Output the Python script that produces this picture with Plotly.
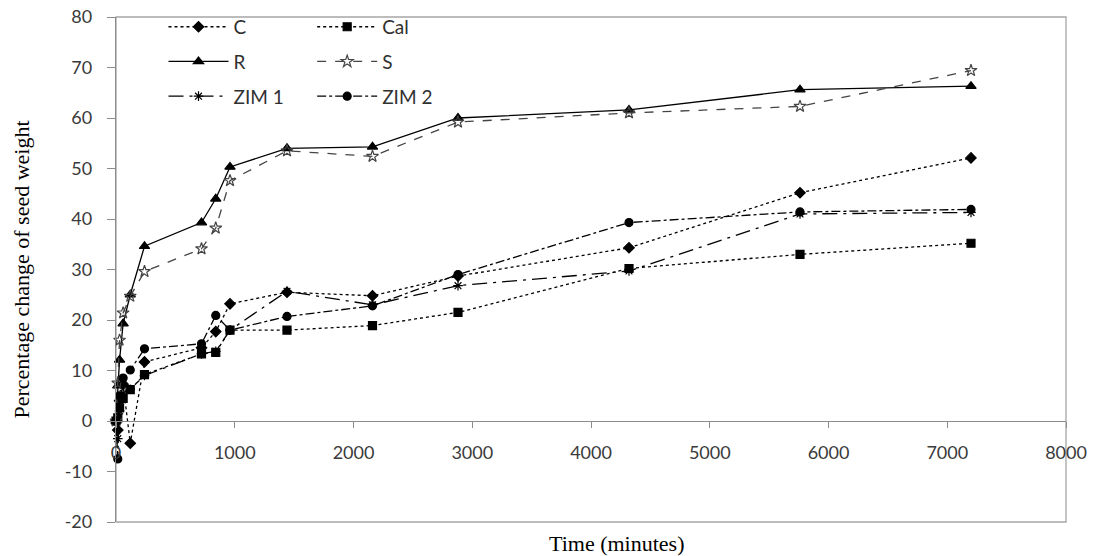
import plotly.graph_objects as go

time_min = [0, 15, 30, 60, 120, 240, 720, 840, 960, 1440, 2160, 2880, 4320, 5760, 7200]

C = [0, -1.8, 4.0, 7.3, -4.4, 11.7, 14.5, 17.7, 23.2, 25.5, 24.8, 28.7, 34.3, 45.2, 52.1]
Cal = [0, 0.6, 2.6, 4.5, 6.2, 9.2, 13.3, 13.6, 18.0, 18.0, 18.9, 21.5, 30.2, 33.0, 35.2]
R = [0, 7.0, 12.1, 19.3, 25.0, 34.6, 39.3, 44.0, 50.3, 54.0, 54.3, 60.0, 61.6, 65.6, 66.3]
S = [0, 7.5, 16.0, 21.4, 24.7, 29.6, 34.1, 38.2, 47.6, 53.5, 52.4, 59.2, 61.0, 62.3, 69.4]
ZIM1 = [0, -3.5, 2.0, 5.5, 6.3, 9.0, 13.3, 13.8, 18.0, 25.7, 23.0, 26.8, 29.7, 41.0, 41.3]
ZIM2 = [0, -7.5, 5.0, 8.5, 10.1, 14.3, 15.3, 20.9, 18.0, 20.7, 22.8, 29.0, 39.3, 41.4, 41.9]

x_ticks = [0, 1000, 2000, 3000, 4000, 5000, 6000, 7000, 8000]
y_ticks = [-20, -10, 0, 10, 20, 30, 40, 50, 60, 70, 80]

series = [
    ("C", C, "dot", "diamond", 8, "#000000", "legend"),
    ("Cal", Cal, "dot", "square", 8, "#000000", "legend2"),
    ("R", R, "solid", "triangle-up", 9, "#000000", "legend"),
    ("S", S, "dash", "star-open", 9, "#444444", "legend2"),
    ("ZIM 1", ZIM1, "longdashdot", "asterisk-open", 8, "#000000", "legend"),
    ("ZIM 2", ZIM2, "dashdot", "circle", 8, "#000000", "legend2"),
]

fig = go.Figure()
for name, vals, dash, sym, size, col, leg in series:
    fig.add_trace(go.Scatter(
        x=time_min, y=vals, name=name, mode="lines+markers",
        line=dict(color=col, width=1.3, dash=dash),
        marker=dict(symbol=sym, size=size, color=col, line=dict(color=col, width=1.2)),
        legend=leg, legendgroup=name, cliponaxis=False,
    ))

tick_font = dict(family="Lato, Open Sans, sans-serif", size=18, color="#3a3a3a")
leg_font = dict(family="Lato, Open Sans, sans-serif", size=19, color="#303030")

fig.update_layout(
    width=1099, height=556,
    margin=dict(l=116, r=33, t=17, b=34, autoexpand=False),
    paper_bgcolor="white", plot_bgcolor="white",
    showlegend=True,
    xaxis=dict(range=[0, 8000], tickvals=x_ticks, ticktext=[str(v) for v in x_ticks],
               anchor="free", position=0.2, showline=True, linecolor="#8c8c8c", linewidth=1.3,
               ticks="outside", ticklen=6, tickcolor="#8c8c8c", tickfont=tick_font,
               ticklabelstandoff=9, ticklabeloverflow="allow",
               showgrid=False, zeroline=False, automargin=False),
    yaxis=dict(range=[-20, 80], tickvals=y_ticks, ticktext=[str(v) for v in y_ticks],
               domain=[0, 1], showline=True, linecolor="#8c8c8c", linewidth=1.3,
               ticks="outside", ticklen=8, tickcolor="#8c8c8c", tickfont=tick_font,
               ticklabelstandoff=11, ticklabeloverflow="allow",
               showgrid=False, zeroline=False, automargin=False),
    legend=dict(x=0.050, y=1.018, xanchor="left", yanchor="top", bgcolor="rgba(0,0,0,0)",
                font=leg_font, tracegroupgap=7, itemwidth=60, traceorder="grouped"),
    legend2=dict(x=0.2065, y=1.018, xanchor="left", yanchor="top", bgcolor="rgba(0,0,0,0)",
                 font=leg_font, tracegroupgap=7, itemwidth=60, traceorder="grouped"),
    shapes=[dict(type="rect", xref="paper", yref="paper", x0=0, x1=1, y0=0, y1=1,
                 line=dict(color="#a6a6a6", width=1.3), layer="below")],
    annotations=[
        dict(text="Time (minutes)", xref="paper", yref="paper", x=0.527, y=0.0,
             yshift=-21, xanchor="center", yanchor="middle", showarrow=False,
             font=dict(family="Liberation Serif, Times New Roman, serif", size=22, color="#000000")),
        dict(text="Percentage change of seed weight", xref="paper", yref="paper", x=0, y=0.5,
             xshift=-95, xanchor="center", yanchor="middle", textangle=-90, showarrow=False,
             font=dict(family="Liberation Serif, Times New Roman, serif", size=22, color="#000000")),
    ],
)

fig.write_html("out.html", config={"displayModeBar": False},
               post_script="document.body.style.margin='0';")
